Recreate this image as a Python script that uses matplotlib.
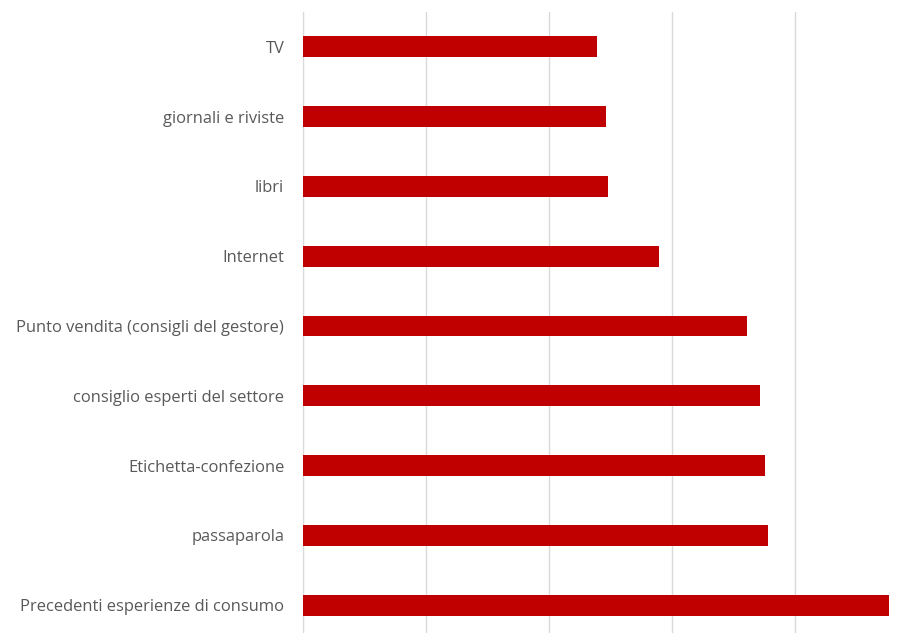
import matplotlib
matplotlib.use("Agg")
import matplotlib.pyplot as plt

# Fonti di informazione, dal basso verso l'alto
categories = [
    "Precedenti esperienze di consumo",
    "passaparola",
    "Etichetta-confezione",
    "consiglio esperti del settore",
    "Punto vendita (consigli del gestore)",
    "Internet",
    "libri",
    "giornali e riviste",
    "TV",
]
values = [4.76, 3.78, 3.75, 3.71, 3.61, 2.89, 2.48, 2.46, 2.39]

BAR_COLOR = "#C00000"
GRID_COLOR = "#D9D9D9"
TEXT_COLOR = "#595959"

fig = plt.figure(figsize=(9.06, 6.33), dpi=100)
W, H = 906, 633
left, right, top, bottom = 303, 900, 12, 640
ax = fig.add_axes([left / W, (H - bottom) / H, (right - left) / W, (bottom - top) / H])

y = range(len(categories))
ax.barh(y, values, height=0.3, color=BAR_COLOR, zorder=3)

ax.set_xlim(0, 4.85)
ax.set_ylim(-0.5, len(categories) - 0.5)
ax.set_xticks([0, 1, 2, 3, 4])
ax.set_xticklabels([])
ax.set_yticks(list(y))
ax.set_yticklabels(categories, fontsize=11.9, color=TEXT_COLOR, family="Open Sans")
ax.tick_params(axis="both", length=0)
ax.tick_params(axis="y", pad=13.5)
ax.grid(True, axis="x", color=GRID_COLOR, linewidth=1, zorder=0)
for side in ("top", "right", "bottom"):
    ax.spines[side].set_visible(False)
ax.spines["left"].set_color(GRID_COLOR)

fig.savefig("out.png", dpi=100)
